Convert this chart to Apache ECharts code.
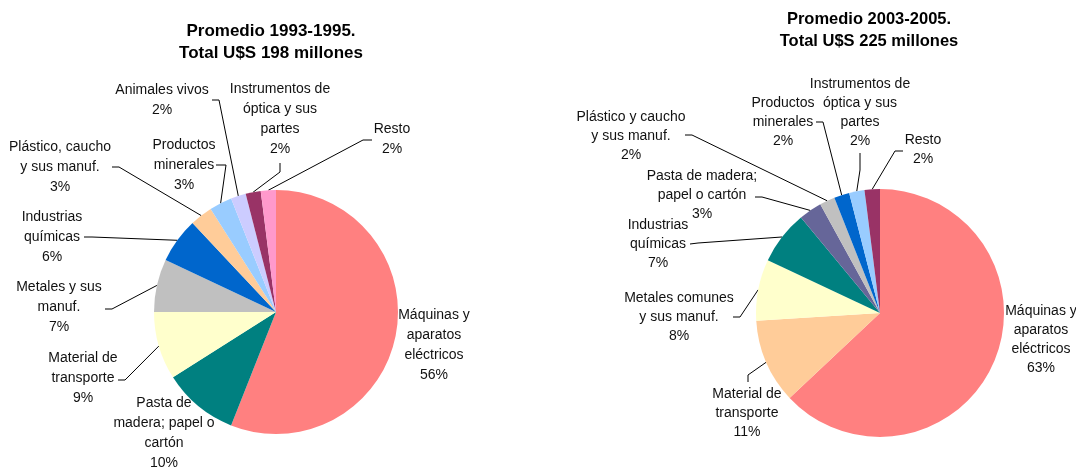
<!DOCTYPE html>
<html>
<head>
<meta charset="utf-8">
<script src="https://cdn.jsdelivr.net/npm/echarts@6/dist/echarts.min.js"></script>
<style>
  html, body { margin: 0; padding: 0; background: #fff; }
  #myChart { width: 1076px; height: 468px; }
</style>
</head>
<body>
<div id="myChart"></div>
<script>
// datos 1993-1995
var names_9395 = ['Máquinas y\naparatos\neléctricos', 'Pasta de\nmadera; papel o\ncartón', 'Material de\ntransporte',
    'Metales y sus\nmanuf.', 'Industrias\nquímicas', 'Plástico, caucho\ny sus manuf.', 'Productos\nminerales',
    'Animales vivos', 'Instrumentos de\nóptica y sus\npartes', 'Resto'];
var values_9395 = [56, 10, 9, 7, 6, 3, 3, 2, 2, 2];

// datos 2003-2005
var names_0305 = ['Máquinas y\naparatos\neléctricos', 'Material de\ntransporte', 'Metales comunes\ny sus manuf.',
    'Industrias\nquímicas', 'Pasta de madera;\npapel o cartón', 'Plástico y caucho\ny sus manuf.', 'Productos\nminerales',
    'Instrumentos de\nóptica y sus\npartes', 'Resto'];
var values_0305 = [63, 11, 8, 7, 3, 2, 2, 2, 2];

var titles = ['Promedio 1993-1995.\nTotal U$S 198 millones', 'Promedio 2003-2005.\nTotal U$S 225 millones'];

// estilos
var colors_9395 = ['#FF8080', '#008080', '#FFFFCC', '#C0C0C0', '#0066CC', '#FFCC99', '#99CCFF', '#CCCCFF', '#993366', '#FF99CC'];
var colors_0305 = ['#FF8080', '#FFCC99', '#FFFFCC', '#008080', '#666699', '#C0C0C0', '#0066CC', '#99CCFF', '#993366'];

// posicion de etiquetas (centro del bloque) y guias [codo, inicio junto a la etiqueta]
var labelPos_9395 = [[434, 345], [164, 433], [83, 378], [59, 307], [52, 237], [60, 167], [184, 165], [162, 100], [280, 119], [392, 139]];
var guides_9395 = [null, null, [[125, 380], [118, 380]], [[112, 309], [105, 309]], [[92, 237], [84, 237]],
    [[119, 167], [112, 167]], [[226, 165], [216, 165]], [[219, 100], [212, 100]], [[280, 172], [280, 163]], [[363, 140], [372, 140]]];

var labelPos_0305 = [[1041, 340], [747, 413], [679, 317], [658, 244], [702, 195], [631, 136], [783, 122], [860, 113], [923, 150]];
var guides_0305 = [null, [[748, 375], [748, 382]], [[740, 317], [733, 317]], [[698, 243], [690, 244]],
    [[762, 197], [755, 197]], [[692, 135], [685, 135]], [[823, 122], [816, 122]], [[860, 170], [860, 153]], [[895, 151], [903, 151]]];

function buildData(names, values, colors, guides) {
    var out = [];
    for (var i = 0; i < names.length; i++) {
        out.push({
            name: names[i],
            value: values[i],
            itemStyle: { color: colors[i] },
            labelLine: { show: guides[i] != null }
        });
    }
    return out;
}

function makeLayout(pos, guides) {
    return function (params) {
        var i = params.dataIndex;
        var res = { x: pos[i][0], y: pos[i][1], align: 'center', verticalAlign: 'middle' };
        if (guides[i] != null && params.labelLinePoints) {
            res.labelLinePoints = [params.labelLinePoints[0]].concat(guides[i]);
        }
        return res;
    };
}

function pieSeries(center, radius, lh, data, pos, guides) {
    return {
        type: 'pie',
        center: center,
        radius: radius,
        startAngle: 90,
        clockwise: true,
        percentPrecision: 0,
        avoidLabelOverlap: false,
        silent: true,
        itemStyle: { borderWidth: 0 },
        label: {
            show: true, position: 'outside',
            formatter: '{b}\n{d}%',
            color: '#111', fontFamily: 'Arial, "Liberation Sans"', fontSize: 14, lineHeight: lh
        },
        labelLine: { show: true, length: 5, length2: 5, lineStyle: { color: '#000', width: 1 } },
        labelLayout: makeLayout(pos, guides),
        emphasis: { disabled: true },
        data: data
    };
}

var myChart = echarts.init(document.getElementById('myChart'));
var option = {
    animation: false,
    backgroundColor: '#fff',
    title: [
        { text: titles[0], left: 266, top: 15, textAlign: 'center',
          textStyle: { fontFamily: 'Arial, "Liberation Sans"', fontSize: 17, fontWeight: 'bold', color: '#000', lineHeight: 22 } },
        { text: titles[1], left: 864, top: 3, textAlign: 'center',
          textStyle: { fontFamily: 'Arial, "Liberation Sans"', fontSize: 16.5, fontWeight: 'bold', color: '#000', lineHeight: 22 } }
    ],
    series: [
        pieSeries([276, 312], 122, 20, buildData(names_9395, values_9395, colors_9395, guides_9395), labelPos_9395, guides_9395),
        pieSeries([880, 313], 124, 19, buildData(names_0305, values_0305, colors_0305, guides_0305), labelPos_0305, guides_0305)
    ]
};
myChart.setOption(option);
</script>
</body>
</html>
